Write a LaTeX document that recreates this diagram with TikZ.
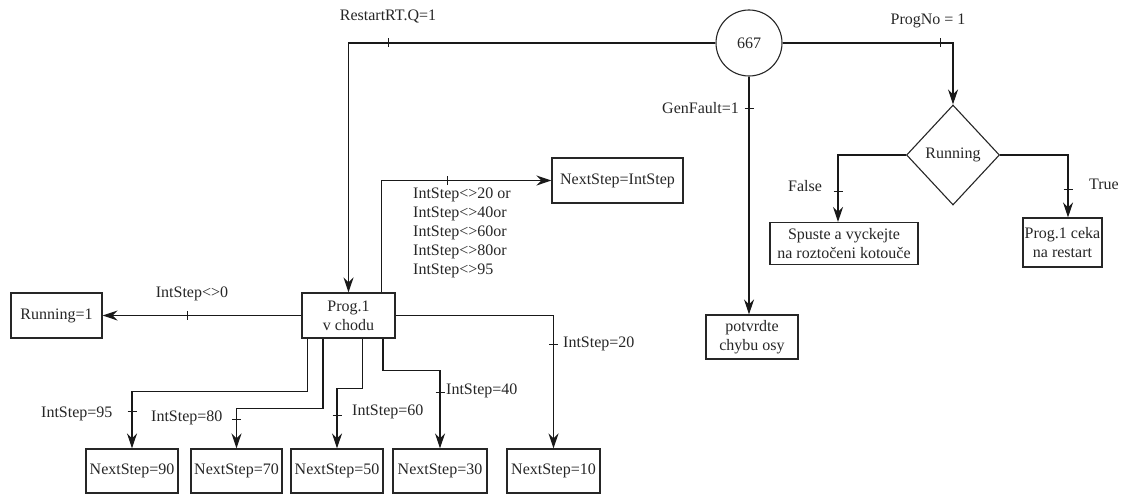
\documentclass[tikz,border=0pt]{standalone}
\usepackage{fontspec}
\setmainfont{Liberation Serif}
\usetikzlibrary{arrows.meta,shapes.geometric}
\begin{document}
\begin{tikzpicture}[x=1pt,y=-1pt,
  every node/.style={font=\fontsize{16}{19}\selectfont, text=black!85},
  box/.style={draw=black!85, line width=1.1pt, inner sep=0pt, align=center},
  flow/.style={draw=black!90, line width=1.1pt, -{Stealth[length=15pt,width=10pt,inset=5pt]}},
  lbl/.style={inner sep=0pt, align=left},
  vtick/.pic={\draw[line width=1pt, black!90] (0,-4.5) -- (0,4.5);},
  htick/.pic={\draw[line width=1pt, black!90] (-4.5,0) -- (4.5,0);}]
\useasboundingbox (0,0) rectangle (1127,495);

% states and actions
\node[box, circle, minimum size=66pt] (c667) at (749,43) {667};
\node[box, diamond, minimum width=93pt, minimum height=100pt] (dia) at (953,155) {Running};
\node[box, minimum width=148pt, minimum height=42pt] (spu) at (844,243.5) {Spuste a vyckejte\\na roztočeni kotouče};
\node[box, minimum width=79pt, minimum height=49pt] (ceka) at (1062.5,242.5) {Prog.1 ceka\\na restart};
\node[box, minimum width=92pt, minimum height=44pt] (pot) at (752,337) {potvrdte\\chybu osy};
\node[box, minimum width=93pt, minimum height=45pt] (prog) at (348.5,315.5) {Prog.1\\v chodu};
\node[box, minimum width=91pt, minimum height=45pt] (run) at (56.5,315.5) {Running=1};
\node[box, minimum width=131pt, minimum height=45pt] (nsi) at (617.5,180.5) {NextStep=IntStep};
\node[box, minimum width=92pt, minimum height=44pt] (ns90) at (132,471) {NextStep=90};
\node[box, minimum width=91pt, minimum height=44pt] (ns70) at (236.5,471) {NextStep=70};
\node[box, minimum width=92pt, minimum height=44pt] (ns50) at (337,471) {NextStep=50};
\node[box, minimum width=94pt, minimum height=44pt] (ns30) at (440,471) {NextStep=30};
\node[box, minimum width=93pt, minimum height=44pt] (ns10) at (553.5,471) {NextStep=10};

% transitions out of 667
\draw[flow] (c667.west) -| (prog.north);
\pic at (388,43) {vtick};
\draw[flow] (c667.east) -| (dia.north);
\pic at (940,43) {vtick};
\draw[flow] (c667.south) -- (c667.south |- pot.north);
\pic at (749,108) {htick};

% decision on Running
\draw[flow] (dia.west) -| ([xshift=-6pt]spu.north);
\pic at (838,191) {htick};
\draw[flow] (dia.east) -| ([xshift=5.5pt]ceka.north);
\pic at (1068,189) {htick};

% transitions out of Prog.1 v chodu
\draw[flow] (prog.west) -- (run.east);
\pic at (187,315.5) {vtick};
\draw[flow] ([xshift=33pt]prog.north) |- (nsi.west);
\pic at (447,180.5) {vtick};
\draw[flow] (prog.east) -| (ns10.north);
\pic at (553.5,344) {htick};
\draw[flow] ([xshift=34.5pt]prog.south) -- ++(0,31.5) -| (ns30.north);
\pic at (440,392) {htick};
\draw[flow] ([xshift=14pt]prog.south) -- ++(0,50) -| (ns50.north);
\pic at (337,415) {htick};
\draw[flow] ([xshift=-25.5pt]prog.south) -- ++(0,70) -| (ns70.north);
\pic at (236.5,419) {htick};
\draw[flow] ([xshift=-41pt]prog.south) -- ++(0,53) -| (ns90.north);
\pic at (132,411) {htick};

% conditions
\node[lbl] (lrestart) at (388,17) {RestartRT.Q=1};
\node[lbl] (lprogno) at (928,21) {ProgNo = 1};
\node[lbl, anchor=east] (lgen) at (739,108) {GenFault=1};
\node[lbl] (lfalse) at (805,186) {False};
\node[lbl] (ltrue) at (1104,184) {True};
\node[lbl] (lne0) at (192,294) {IntStep<>0};
\node[lbl, anchor=north west] (lnot) at (413,188) {IntStep<>20 or\\IntStep<>40or\\IntStep<>60or\\IntStep<>80or\\IntStep<>95};
\node[lbl, anchor=west] (l20) at (563,344) {IntStep=20};
\node[lbl, anchor=west] (l40) at (446,391) {IntStep=40};
\node[lbl, anchor=west] (l60) at (352,412) {IntStep=60};
\node[lbl, anchor=west] (l80) at (151,418) {IntStep=80};
\node[lbl, anchor=west] (l95) at (41,414) {IntStep=95};
\end{tikzpicture}
\end{document}
